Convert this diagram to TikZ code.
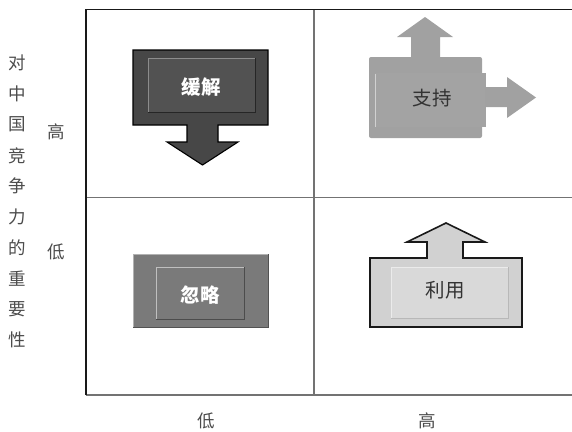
\documentclass[tikz,border=0pt]{standalone}
\usepackage{fontspec}
\newfontfamily\cjk{Noto Sans CJK SC}
\begin{document}
\begin{tikzpicture}[x=1pt,y=-1pt,
  side/.style={font=\cjk\fontsize{17.5}{19}\selectfont, text=black!70, inner sep=0pt},
  lbl/.style={font=\cjk\fontsize{19.5}{21}\selectfont, inner sep=0pt},
  blbl/.style={font=\cjk\bfseries\fontsize{19.5}{21}\selectfont, inner sep=0pt, text=white},
  gridl/.style={draw=black!55, line width=1.3pt}]
\useasboundingbox (0,0) rectangle (572,431);
% grid
\draw[gridl] (314,9.5) -- (314,395);
\draw[gridl] (86,197.5) -- (572,197.5);
\draw[gridl] (86,395) -- (572,395);
\draw[black!90, line width=1.2pt] (86,395) -- (86,9.5) -- (572,9.5);
% axis labels
\foreach \ch [count=\i from 0] in {对,中,国,竞,争,力,的,重,要,性}
  \node[side] (v\i) at (17,{63+30.8*\i}) {\ch};
\node[side] (yh) at (56,132) {高};
\node[side] (yl) at (56,252) {低};
\node[side] (xl) at (206,421) {低};
\node[side] (xh) at (427,421) {高};
% shape 1: 缓解
\draw[fill=black!72, draw=black, line width=1.1pt]
  (133,50) -- (268,50) -- (268,125) -- (218,125) -- (218,142) -- (238,142)
  -- (202.5,165) -- (167,142) -- (187,142) -- (187,125) -- (133,125) -- cycle;
\fill[black!68] (148,58) rectangle (255,112);
\draw[black!45, line width=0.9pt] (148,112) -- (148,58) -- (255,58);
\draw[black!85, line width=0.9pt] (255,58) -- (255,112) -- (148,112);
\node[blbl] (t1) at (201,87) {缓解};
% shape 2: 支持
\fill[black!37, rounded corners=2pt] (369,57) rectangle (482,138);
\fill[black!37] (411,58) -- (411,37) -- (397,37) -- (425,17) -- (453,37) -- (440,37) -- (440,58) -- cycle;
\fill[black!36] (375,73) rectangle (486,127);
\draw[black!18, line width=1pt] (375.5,74) -- (375.5,127);
\fill[black!37] (485,87) -- (507,87) -- (507,77) -- (536,97.5) -- (507,118) -- (507,107) -- (485,107) -- cycle;
\node[lbl, text=black!80] (t2) at (432,98) {支持};
% shape 3: 忽略
\fill[black!52] (133,254) rectangle (268,327);
\draw[black!30, line width=0.8pt] (133,327) -- (133,254) -- (268,254);
\draw[black!68, line width=0.8pt] (268,254) -- (268,327) -- (133,327);
\fill[black!52] (156,267) rectangle (244,319);
\draw[black!25, line width=0.8pt] (156,319) -- (156,267) -- (244,267);
\draw[black!70, line width=0.8pt] (244,267) -- (244,319) -- (156,319);
\node[blbl] (t3) at (200,295) {忽略};
% shape 4: 利用
\draw[fill=black!18, draw=black!90, line width=1.6pt]
  (370,258) -- (427,258) -- (427,242) -- (407,242) -- (446,223) -- (485,242)
  -- (463,242) -- (463,258) -- (522,258) -- (522,327) -- (370,327) -- cycle;
\fill[black!15] (391,267) rectangle (508,318);
\draw[black!8, line width=0.8pt] (391,318) -- (391,267) -- (508,267);
\draw[black!28, line width=0.8pt] (508,267) -- (508,318) -- (391,318);
\node[lbl, text=black!80] (t4) at (445,290) {利用};
\end{tikzpicture}
\end{document}
